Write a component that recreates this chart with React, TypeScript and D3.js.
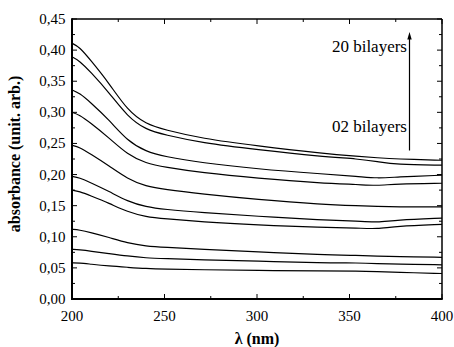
import React, { useEffect, useRef } from "react";
import * as d3 from "d3";

const wavelengths = [200, 204, 210, 220, 230, 240, 250, 270, 300, 335, 355, 365, 375, 400];

const s20 = [0.411, 0.405, 0.384, 0.347, 0.303, 0.281, 0.272, 0.258, 0.246, 0.234, 0.229, 0.227, 0.225, 0.223];
const s18 = [0.389, 0.383, 0.365, 0.332, 0.293, 0.272, 0.264, 0.251, 0.240, 0.229, 0.225, 0.221, 0.216, 0.215];
const s16 = [0.336, 0.331, 0.316, 0.288, 0.254, 0.237, 0.229, 0.219, 0.209, 0.201, 0.197, 0.194, 0.196, 0.199];
const s14 = [0.300, 0.296, 0.283, 0.259, 0.232, 0.218, 0.212, 0.203, 0.194, 0.186, 0.184, 0.182, 0.185, 0.186];
const s12 = [0.247, 0.244, 0.233, 0.214, 0.193, 0.181, 0.176, 0.169, 0.160, 0.152, 0.150, 0.149, 0.148, 0.148];
const s10 = [0.197, 0.195, 0.187, 0.173, 0.157, 0.148, 0.144, 0.139, 0.133, 0.127, 0.125, 0.123, 0.127, 0.130];
const s08 = [0.175, 0.173, 0.166, 0.154, 0.140, 0.132, 0.129, 0.124, 0.119, 0.115, 0.114, 0.1125, 0.117, 0.120];
const s06 = [0.112, 0.111, 0.107, 0.099, 0.090, 0.085, 0.083, 0.080, 0.076, 0.071, 0.070, 0.069, 0.068, 0.067];
const s04 = [0.080, 0.079, 0.077, 0.073, 0.069, 0.066, 0.065, 0.063, 0.061, 0.058, 0.058, 0.057, 0.056, 0.055];
const s02 = [0.058, 0.058, 0.056, 0.053, 0.051, 0.049, 0.048, 0.047, 0.046, 0.045, 0.045, 0.044, 0.043, 0.041];

const allSeries = [s20, s18, s16, s14, s12, s10, s08, s06, s04, s02];

const xTickValues = [200, 250, 300, 350, 400];
const yTickValues = [0, 0.05, 0.1, 0.15, 0.2, 0.25, 0.3, 0.35, 0.4, 0.45];

const X0 = 72, X1 = 442, Y0 = 19, Y1 = 299;
const FAM = '"Liberation Serif", Tinos, Times, serif';

export default function App() {
  const ref = useRef<SVGSVGElement>(null);
  const x = d3.scaleLinear().domain([200, 400]).range([X0, X1]);
  const y = d3.scaleLinear().domain([0, 0.45]).range([Y1, Y0]);
  const line = d3
    .line<number>()
    .x((_, i) => x(wavelengths[i]))
    .y((d) => y(d))
    .curve(d3.curveBasis);

  useEffect(() => {
    if (ref.current) {
      d3.select(ref.current).selectAll("text").attr("font-family", FAM).style("font-family", FAM);
    }
  }, []);

  const xMinor = d3.range(200, 401, 25);
  const yMinor = d3.range(0, 0.4501, 0.025);
  const fmt = (v: number) => v.toFixed(2).replace(".", ",");

  return (
    <svg ref={ref} width={454} height={347} style={{ position: "absolute", left: 0, top: 0, background: "#fff" }}>
      <style>{`text { font-family: "Liberation Serif", Tinos, Times, serif; }`}</style>
      <rect width={454} height={347} fill="#fff" />
      {allSeries.map((s, i) => (
        <path key={i} d={line(s) || ""} fill="none" stroke="#000" strokeWidth={1.2} />
      ))}
      <line x1={X0} x2={X1} y1={Y0} y2={Y0} stroke="#000" strokeWidth={1.5} />
      <line x1={X1} x2={X1} y1={Y0} y2={Y1} stroke="#000" strokeWidth={1.5} />
      <line x1={X0} x2={X1 + 0.75} y1={Y1} y2={Y1} stroke="#000" strokeWidth={2} />
      <line x1={X0} x2={X0} y1={Y0 - 0.75} y2={Y1 + 1} stroke="#000" strokeWidth={2} />
      {xMinor.map((v, i) => {
        const major = v % 50 === 0;
        const len = major ? 5 : 3;
        return (
          <g key={"xt" + i}>
            <line x1={x(v)} x2={x(v)} y1={Y1} y2={Y1 - len} stroke="#000" strokeWidth={1} />
            <line x1={x(v)} x2={x(v)} y1={Y0} y2={Y0 + len} stroke="#000" strokeWidth={1} />
          </g>
        );
      })}
      {yMinor.map((v, i) => {
        const major = i % 2 === 0;
        const len = major ? 5 : 3;
        return (
          <g key={"yt" + i}>
            <line x1={X0} x2={X0 + len} y1={y(v)} y2={y(v)} stroke="#000" strokeWidth={1} />
            <line x1={X1} x2={X1 - len} y1={y(v)} y2={y(v)} stroke="#000" strokeWidth={1} />
          </g>
        );
      })}
      {xTickValues.map((v) => (
        <text key={"xl" + v} x={x(v)} y={321} textAnchor="middle" fontSize={15}>
          {v}
        </text>
      ))}
      {yTickValues.map((v) => (
        <text key={"yl" + v} x={65.5} y={y(v) + 5} textAnchor="end" fontSize={15}>
          {fmt(v)}
        </text>
      ))}
      <text x={257} y={344} textAnchor="middle" fontSize={16} fontWeight="bold">
        λ (nm)
      </text>
      <text transform="translate(20,154) rotate(-90)" textAnchor="middle" fontSize={16} fontWeight="bold">
        absorbance (unit. arb.)
      </text>
      <text x={407} y={52} textAnchor="end" fontSize={17}>
        20 bilayers
      </text>
      <text x={407} y={132} textAnchor="end" fontSize={17}>
        02 bilayers
      </text>
      <line x1={409.5} x2={409.5} y1={150.5} y2={38} stroke="#000" strokeWidth={1.2} />
      <path d="M409.5,32 L407.3,39.5 L411.7,39.5 Z" fill="#000" />
    </svg>
  );
}
